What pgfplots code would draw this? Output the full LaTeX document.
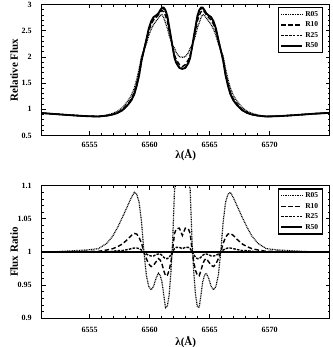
\documentclass[border=0pt]{standalone}
\usepackage{fontspec}
\setmainfont{Liberation Serif}
\usepackage{pgfplots}
\usepackage{pgfplotstable}
\pgfplotsset{compat=1.18}

% relative flux profiles
\pgfplotstableread{
lam     r05   r10   r25   r50
6551.00 0.928 0.928 0.928 0.928
6551.72 0.916 0.916 0.916 0.916
6552.72 0.900 0.899 0.899 0.899
6553.72 0.885 0.883 0.883 0.883
6554.72 0.871 0.870 0.869 0.869
6555.72 0.866 0.863 0.862 0.862
6556.42 0.889 0.881 0.878 0.878
6556.92 0.922 0.905 0.901 0.900
6557.32 0.964 0.937 0.932 0.930
6557.72 1.031 0.992 0.982 0.980
6557.97 1.099 1.052 1.038 1.035
6558.22 1.174 1.117 1.099 1.095
6558.47 1.266 1.199 1.176 1.170
6558.72 1.406 1.326 1.298 1.290
6558.92 1.576 1.489 1.459 1.450
6559.12 1.774 1.686 1.658 1.650
6559.32 2.017 1.955 1.936 1.930
6559.52 2.130 2.130 2.130 2.130
6559.72 2.248 2.307 2.323 2.330
6559.92 2.408 2.494 2.527 2.540
6560.12 2.527 2.621 2.664 2.680
6560.32 2.616 2.705 2.743 2.760
6560.52 2.678 2.748 2.779 2.790
6560.72 2.739 2.802 2.822 2.830
6560.87 2.789 2.855 2.881 2.890
6561.02 2.808 2.887 2.925 2.940
6561.17 2.749 2.858 2.916 2.940
6561.32 2.647 2.786 2.861 2.890
6561.47 2.552 2.683 2.752 2.780
6561.62 2.412 2.508 2.559 2.580
6561.77 2.309 2.344 2.370 2.380
6561.92 2.213 2.181 2.172 2.170
6562.07 2.168 2.035 1.990 1.980
6562.22 2.077 1.946 1.893 1.880
6562.47 2.005 1.854 1.803 1.790
6562.72 1.991 1.814 1.779 1.770
6562.97 2.005 1.854 1.803 1.790
6563.22 2.077 1.946 1.893 1.880
6563.37 2.168 2.035 1.990 1.980
6563.52 2.213 2.181 2.172 2.170
6563.67 2.309 2.344 2.370 2.380
6563.82 2.412 2.508 2.559 2.580
6563.97 2.552 2.683 2.752 2.780
6564.12 2.647 2.786 2.861 2.890
6564.27 2.749 2.858 2.916 2.940
6564.42 2.808 2.887 2.925 2.940
6564.57 2.789 2.855 2.881 2.890
6564.72 2.739 2.802 2.822 2.830
6564.92 2.678 2.748 2.779 2.790
6565.12 2.616 2.705 2.743 2.760
6565.32 2.527 2.621 2.664 2.680
6565.52 2.408 2.494 2.527 2.540
6565.72 2.248 2.307 2.323 2.330
6565.92 2.130 2.130 2.130 2.130
6566.12 2.017 1.955 1.936 1.930
6566.32 1.774 1.686 1.658 1.650
6566.52 1.576 1.489 1.459 1.450
6566.72 1.406 1.326 1.298 1.290
6566.97 1.266 1.199 1.176 1.170
6567.22 1.174 1.117 1.099 1.095
6567.47 1.099 1.052 1.038 1.035
6567.72 1.031 0.992 0.982 0.980
6568.12 0.964 0.937 0.932 0.930
6568.52 0.922 0.905 0.901 0.900
6569.02 0.889 0.881 0.878 0.878
6569.72 0.866 0.863 0.862 0.862
6570.72 0.871 0.870 0.869 0.869
6571.72 0.885 0.883 0.883 0.883
6572.72 0.900 0.899 0.899 0.899
6573.72 0.916 0.916 0.916 0.916
6575.00 0.932 0.932 0.932 0.932
}\profile

% flux ratios to R50
\pgfplotstableread{
lam     q05   q10   q25
6551.00 1.000 1.000 1.000
6551.72 1.000 1.000 1.000
6552.72 1.001 1.000 1.000
6553.72 1.002 1.000 1.000
6554.72 1.003 1.001 1.000
6555.72 1.005 1.001 1.000
6556.42 1.013 1.003 1.000
6556.92 1.024 1.005 1.001
6557.32 1.037 1.008 1.002
6557.72 1.052 1.012 1.002
6557.97 1.062 1.016 1.003
6558.22 1.072 1.020 1.004
6558.47 1.082 1.025 1.005
6558.72 1.090 1.028 1.006
6558.92 1.087 1.027 1.006
6559.12 1.075 1.022 1.005
6559.32 1.045 1.013 1.003
6559.52 1.000 1.000 1.000
6559.72 0.965 0.990 0.997
6559.92 0.948 0.982 0.995
6560.12 0.943 0.978 0.994
6560.32 0.948 0.980 0.994
6560.52 0.960 0.985 0.996
6560.72 0.968 0.990 0.997
6560.87 0.965 0.988 0.997
6561.02 0.955 0.982 0.995
6561.17 0.935 0.972 0.992
6561.32 0.916 0.964 0.990
6561.47 0.918 0.965 0.990
6561.62 0.935 0.972 0.992
6561.77 0.970 0.985 0.996
6561.92 1.020 1.005 1.001
6562.07 1.095 1.028 1.005
6562.22 1.105 1.035 1.007
6562.47 1.120 1.036 1.007
6562.72 1.125 1.025 1.005
6562.97 1.120 1.036 1.007
6563.22 1.105 1.035 1.007
6563.37 1.095 1.028 1.005
6563.52 1.020 1.005 1.001
6563.67 0.970 0.985 0.996
6563.82 0.935 0.972 0.992
6563.97 0.918 0.965 0.990
6564.12 0.916 0.964 0.990
6564.27 0.935 0.972 0.992
6564.42 0.955 0.982 0.995
6564.57 0.965 0.988 0.997
6564.72 0.968 0.990 0.997
6564.92 0.960 0.985 0.996
6565.12 0.948 0.980 0.994
6565.32 0.943 0.978 0.994
6565.52 0.948 0.982 0.995
6565.72 0.965 0.990 0.997
6565.92 1.000 1.000 1.000
6566.12 1.045 1.013 1.003
6566.32 1.075 1.022 1.005
6566.52 1.087 1.027 1.006
6566.72 1.090 1.028 1.006
6566.97 1.082 1.025 1.005
6567.22 1.072 1.020 1.004
6567.47 1.062 1.016 1.003
6567.72 1.052 1.012 1.002
6568.12 1.037 1.008 1.002
6568.52 1.024 1.005 1.001
6569.02 1.013 1.003 1.000
6569.72 1.005 1.001 1.000
6570.72 1.003 1.001 1.000
6571.72 1.002 1.000 1.000
6572.72 1.001 1.000 1.000
6573.72 1.000 1.000 1.000
6575.00 1.000 1.000 1.000
}\ratio

\pgfplotsset{
  fluxpanel/.style={
    scale only axis, width=288pt,
    xmin=6551, xmax=6575,
    xtick={6555,6560,6565,6570}, minor x tick num=4,
    tick align=inside,
    major tick length=4pt, minor tick length=2.2pt,
    tick style={black, line width=0.7pt},
    axis line style={line width=1.1pt},
    /pgf/number format/assume math mode=true,
    /pgf/number format/1000 sep={},
    tick label style={font=\bfseries\fontsize{8}{9}\selectfont},
    yticklabel style={xshift=-6.5pt},
    label style={font=\bfseries\fontsize{11}{13}\selectfont},
    ylabel style={at={(axis description cs:-0.096,0.5)}, anchor=center},
    xlabel={λ(Å)},
    legend style={at={(0.976,0.979)}, anchor=north east, draw=black,
      line width=1.2pt, font=\bfseries\fontsize{7.5}{8.5}\selectfont,
      inner xsep=2pt, inner ysep=1.5pt},
    legend cell align=left,
    legend image code/.code={\draw[#1] (0pt,0pt) -- (21pt,0pt);},
  },
  s05/.style={black, line width=1.2pt, dash pattern=on 0.9pt off 0.8pt},
  s10/.style={black, line width=1.4pt, dash pattern=on 4.5pt off 2.5pt},
  s25/.style={black, line width=1.4pt, dash pattern=on 2.6pt off 1.2pt},
  s50/.style={black, line width=1.8pt},
}

\begin{document}
\begin{tikzpicture}
\useasboundingbox (0,0) rectangle (332pt,347pt);

\begin{axis}[fluxpanel,
  at={(41.7pt,211.5pt)}, anchor=south west, height=131pt,
  ymin=0.5, ymax=3, ytick={0.5,1,1.5,2,2.5,3}, minor y tick num=4,
  ylabel={Relative Flux},
  xticklabel style={yshift=-3.5pt},
  xlabel style={at={(axis description cs:0.5,-0.149)}, anchor=center},
]
\addplot[s05] table[x=lam, y=r05] {\profile};
\addlegendentry{R05}
\addplot[s10] table[x=lam, y=r10] {\profile};
\addlegendentry{R10}
\addplot[s25] table[x=lam, y=r25] {\profile};
\addlegendentry{R25}
\addplot[s50] table[x=lam, y=r50] {\profile};
\addlegendentry{R50}
\end{axis}

\begin{axis}[fluxpanel,
  at={(41.7pt,28.7pt)}, anchor=south west, height=132.6pt,
  ymin=0.9, ymax=1.1, ytick={0.9,0.95,1,1.05,1.1}, minor y tick num=4,
  ylabel={Flux Ratio},
  xticklabel style={yshift=-5pt},
  xlabel style={at={(axis description cs:0.5,-0.176)}, anchor=center},
]
\addplot[s05] table[x=lam, y=q05] {\ratio};
\addlegendentry{R05}
\addplot[s10] table[x=lam, y=q10] {\ratio};
\addlegendentry{R10}
\addplot[s25] table[x=lam, y=q25] {\ratio};
\addlegendentry{R25}
\addplot[s50] coordinates {(6551,1) (6575,1)};
\addlegendentry{R50}
\end{axis}
\end{tikzpicture}
\end{document}
